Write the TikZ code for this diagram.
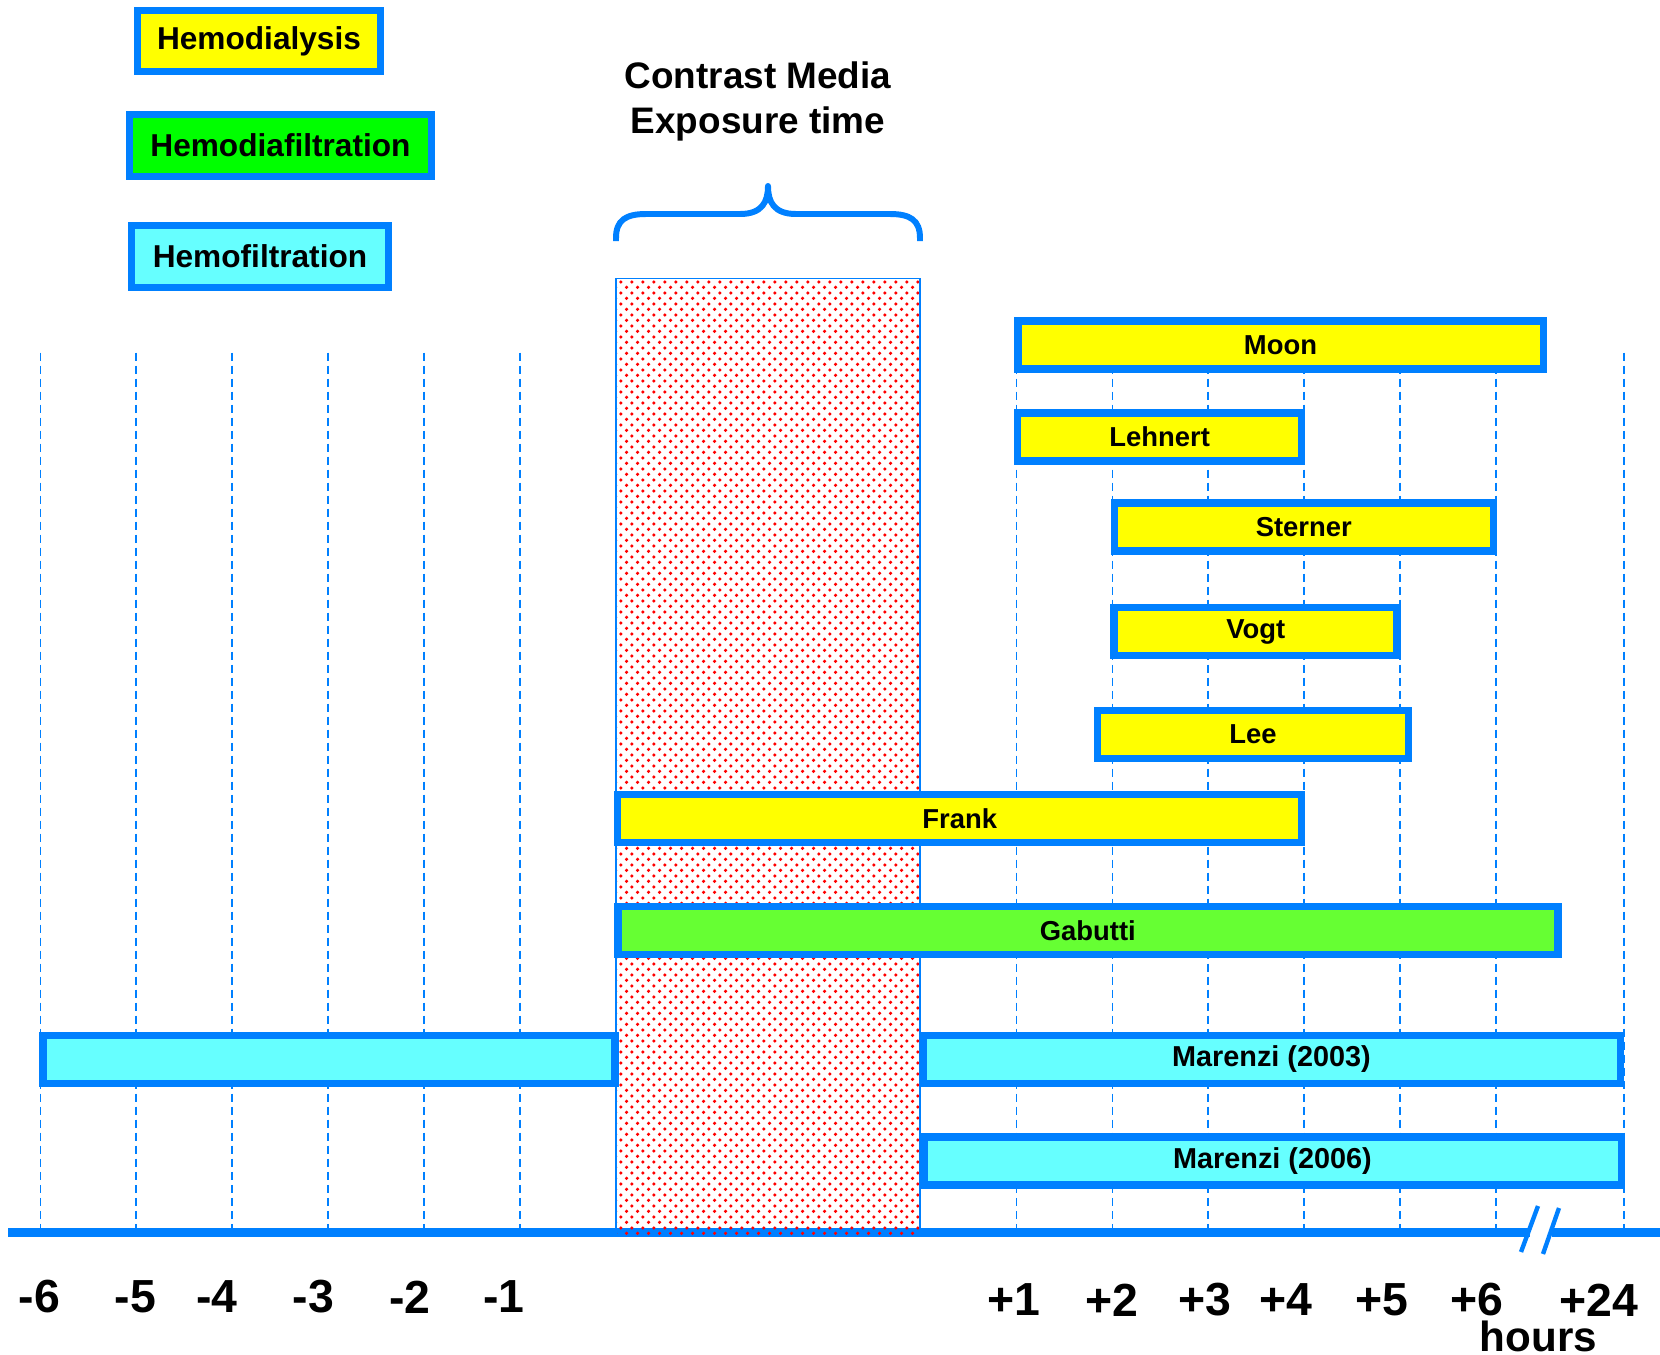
\documentclass[tikz,border=0pt]{standalone}
\usepackage{fontspec}
\setmainfont{Liberation Sans}
\usepackage{xcolor}
\usetikzlibrary{patterns.meta}

\definecolor{rimblue}{RGB}{0,128,255}
\definecolor{hdyellow}{RGB}{255,255,0}
\definecolor{hdfgreen}{RGB}{0,255,0}
\definecolor{gabgreen}{RGB}{102,255,51}
\definecolor{hfcyan}{RGB}{102,255,255}

\tikzdeclarepattern{
  name=cmdots,
  type=uncolored,
  bounding box={(0,0) and (3.06pt,3.08pt)},
  tile size={(3.06pt,3.08pt)},
  code={
    \fill (0.76pt,0.77pt) circle (0.52pt);
    \fill (2.29pt,2.31pt) circle (0.52pt);
  }
}

\begin{document}
\begin{tikzpicture}[x=0.1mm, y=-0.1mm,
    legendbox/.style={
        rectangle, draw=rimblue, line width=2pt, inner sep=0pt,
        font=\fontsize{9}{11}\selectfont\bfseries
    },
    therapy/.style={
        rectangle, draw=rimblue, line width=2.13pt, inner sep=0pt,
        minimum height=0.48cm, font=\fontsize{7.8}{9}\selectfont\bfseries
    },
    hd/.style={therapy, fill=hdyellow},
    hdf/.style={therapy, fill=gabgreen},
    hf/.style={therapy, fill=hfcyan, font=\fontsize{8.2}{10}\selectfont\bfseries},
    hourline/.style={rimblue, line width=0.45pt, dash pattern=on 2.3pt off 1.4pt},
    axisline/.style={rimblue, line width=2.3pt},
    ticklabel/.style={font=\fontsize{13.2}{15}\selectfont\bfseries}
]
\useasboundingbox (0,0) rectangle (1660,1355);

% Hour grid
\foreach \h in {1,...,6} {
    \draw[hourline] (615.7-95.9*\h,352.5) -- (615.7-95.9*\h,1232);
    \draw[hourline] (920.5+95.9*\h,352.5) -- (920.5+95.9*\h,1232);
}
\draw[hourline] (1624,352.5) -- (1624,1232);

% Time axis with break
\draw[axisline] (8.5,1232.5) -- (1530,1232.5);
\draw[axisline] (1552,1232.5) -- (1660,1232.5);
\draw[rimblue, line width=1.25pt] (1521,1252) -- (1538,1206);
\draw[rimblue, line width=1.25pt] (1543,1254) -- (1559,1208);

% Contrast media exposure window
\path[pattern=cmdots, pattern color=red] (616,278.4) rectangle (920,1236.5);
\draw[rimblue, line width=0.5pt] (616,278.4) rectangle (920,1236.5);

\draw[rimblue, line width=1.7pt, line join=round]
    (616,241) -- (616,238) .. controls (616,220) and (626,214) .. (646,214) -- (740,214)
    .. controls (762,214) and (768,202) .. (768,186)
    .. controls (768,202) and (774,214) .. (796,214) -- (890,214)
    .. controls (910,214) and (920,220) .. (920,238) -- (920,241);
\node[font=\fontsize{10.5}{12.66}\selectfont\bfseries, align=center]
    (cmtitle) at (758,101.5) {Contrast Media\\Exposure time};

% Legend
\node[legendbox, fill=hdyellow, minimum width=2.43cm, minimum height=0.61cm]
    (lhd) at (259,41) {Hemodialysis};
\node[legendbox, fill=hdfgreen, minimum width=3.02cm, minimum height=0.623cm]
    (lhdf) at (280.5,145.3) {Hemodiafiltration};
\node[legendbox, fill=hfcyan, minimum width=2.564cm, minimum height=0.623cm]
    (lhf) at (260,256.3) {Hemofiltration};

% Studies
\node[hd, minimum width=5.255cm] (moon) at (1280.5,345) {Moon};
\node[hd, minimum width=2.84cm] (lehnert) at (1159.7,437) {Lehnert};
\node[hd, minimum width=3.79cm] (sterner) at (1303.8,527.2) {Sterner};
\node[hd, minimum width=2.83cm] (vogt) at (1255.7,631.7) {Vogt};
\node[hd, minimum width=3.11cm] (lee) at (1253,734.4) {Lee};
\node[hd, minimum width=6.84cm] (frank) at (959.7,818.7) {Frank};
\node[hdf, minimum width=9.40cm] (gabutti) at (1087.8,930.5) {Gabutti};
\node[hf, minimum width=5.72cm] (marpre) at (329.1,1059.3) {};
\node[hf, minimum width=6.975cm] (marpost) at (1271.5,1059.3) {Marenzi (2003)};
\node[hf, minimum width=6.975cm] (marlate) at (1272.5,1161) {Marenzi (2006)};

% Axis labels
\node[ticklabel] (tm6) at (39.2,1297) {-6};
\node[ticklabel] (tm5) at (135.5,1297) {-5};
\node[ticklabel] (tm4) at (217,1297) {-4};
\node[ticklabel] (tm3) at (313.4,1297) {-3};
\node[ticklabel] (tm2) at (409.7,1297) {-2};
\node[ticklabel] (tm1) at (504,1297) {-1};
\node[ticklabel] (tp1) at (1014.2,1300) {+1};
\node[ticklabel] (tp2) at (1111.6,1300) {+2};
\node[ticklabel] (tp3) at (1204.8,1300) {+3};
\node[ticklabel] (tp4) at (1286.3,1300) {+4};
\node[ticklabel] (tp5) at (1381.6,1300) {+5};
\node[ticklabel] (tp6) at (1476.9,1300) {+6};
\node[ticklabel] (tp24) at (1598.6,1300) {+24};
\node[font=\fontsize{12}{14}\selectfont\bfseries] (hrs) at (1538.3,1336) {hours};

\end{tikzpicture}
\end{document}
